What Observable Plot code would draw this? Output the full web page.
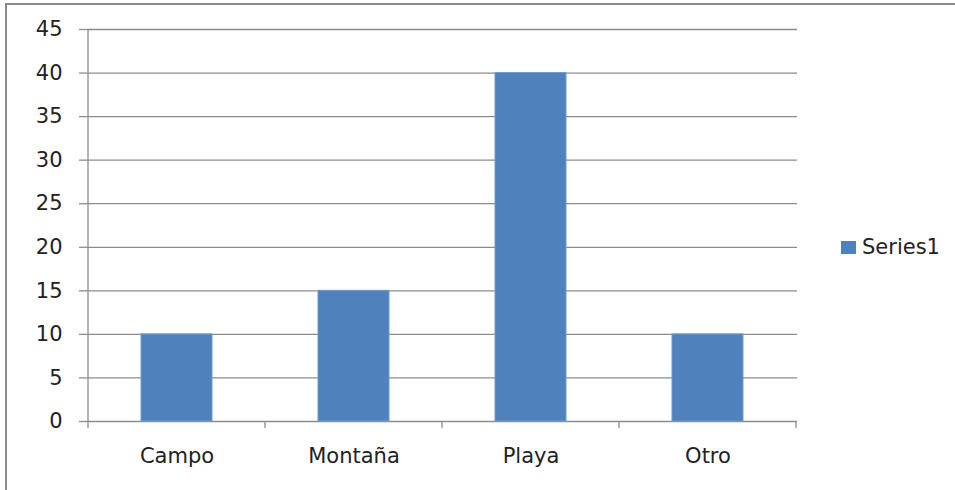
<!DOCTYPE html>
<html><head><meta charset="utf-8">
<script src="https://cdn.jsdelivr.net/npm/d3@7"></script>
<script src="https://cdn.jsdelivr.net/npm/@observablehq/plot@0.6"></script>
<style>
html,body{margin:0;padding:0;background:#fff;overflow:hidden;width:955px;height:490px;}
#frame{position:absolute;left:5px;top:3px;width:1000px;height:600px;border:2px solid #8a8a8a;box-sizing:border-box;}
#chart{position:absolute;left:0;top:0;}
#legend{position:absolute;left:841px;top:235px;font:21px "DejaVu Sans";line-height:24px;color:#222;display:flex;align-items:center;}
#legend .sw{width:15px;height:13px;background:#4F81BD;margin-right:6px;}
</style>
</head><body>
<div id="frame"></div>
<div id="chart"></div>
<div id="legend"></div>
<script>
const categories = ["Campo", "Montaña", "Playa", "Otro"];
const values = [10, 15, 40, 10];
const yTicks = [0, 5, 10, 15, 20, 25, 30, 35, 40, 45];
const seriesName = "Series1";
const barColor = "#4F81BD";
const lineColor = "#8c8c8c";

const data = categories.map((c, i) => ({category: c, value: values[i]}));

// axis line and category-boundary tick marks, derived from the scales
const boundaryMark = (index, scales) => {
  const x = scales.x, y = scales.y;
  const bw = typeof x.bandwidth === "function" ? x.bandwidth() : x.bandwidth;
  const step = x(categories[1]) - x(categories[0]);
  const y0 = y(0), yTop = y(d3.max(yTicks));
  const xs = categories.map(c => x(c) + bw / 2 - step / 2);
  xs.push(xs[xs.length - 1] + step);
  const g = d3.create("svg:g").attr("stroke", lineColor).attr("stroke-width", 1.3);
  g.append("line").attr("x1", xs[0]).attr("x2", xs[0]).attr("y1", yTop).attr("y2", y0);
  for (const px of xs) {
    g.append("line").attr("x1", px).attr("x2", px).attr("y1", y0).attr("y2", y0 + 7);
  }
  return g.node();
};

const chart = Plot.plot({
  width: 955,
  height: 490,
  marginLeft: 87,
  marginRight: 158,
  marginTop: 29,
  marginBottom: 69,
  style: {fontFamily: "DejaVu Sans", fontSize: "21px", color: "#222", background: "transparent"},
  x: {domain: categories, paddingInner: 0.6, paddingOuter: 0.3, align: 0.5},
  y: {domain: [0, 45]},
  marks: [
    Plot.gridY(yTicks, {stroke: lineColor, strokeOpacity: 1, strokeWidth: 1.3}),
    Plot.barY(data, {x: "category", y: "value", fill: barColor, stroke: "#6f9bd0", strokeWidth: 1}),
    boundaryMark,
    Plot.axisY(yTicks, {tickSize: 8, tickPadding: 17, stroke: lineColor, strokeWidth: 1.3, fill: "#222", fontSize: 21, label: null}),
    Plot.axisX({tickSize: 0, tickPadding: 27, fill: "#222", fontSize: 21, label: null})
  ]
});
document.getElementById("chart").appendChild(chart);

const legend = document.getElementById("legend");
legend.innerHTML = `<div class="sw"></div><span>${seriesName}</span>`;
</script>
</body></html>
